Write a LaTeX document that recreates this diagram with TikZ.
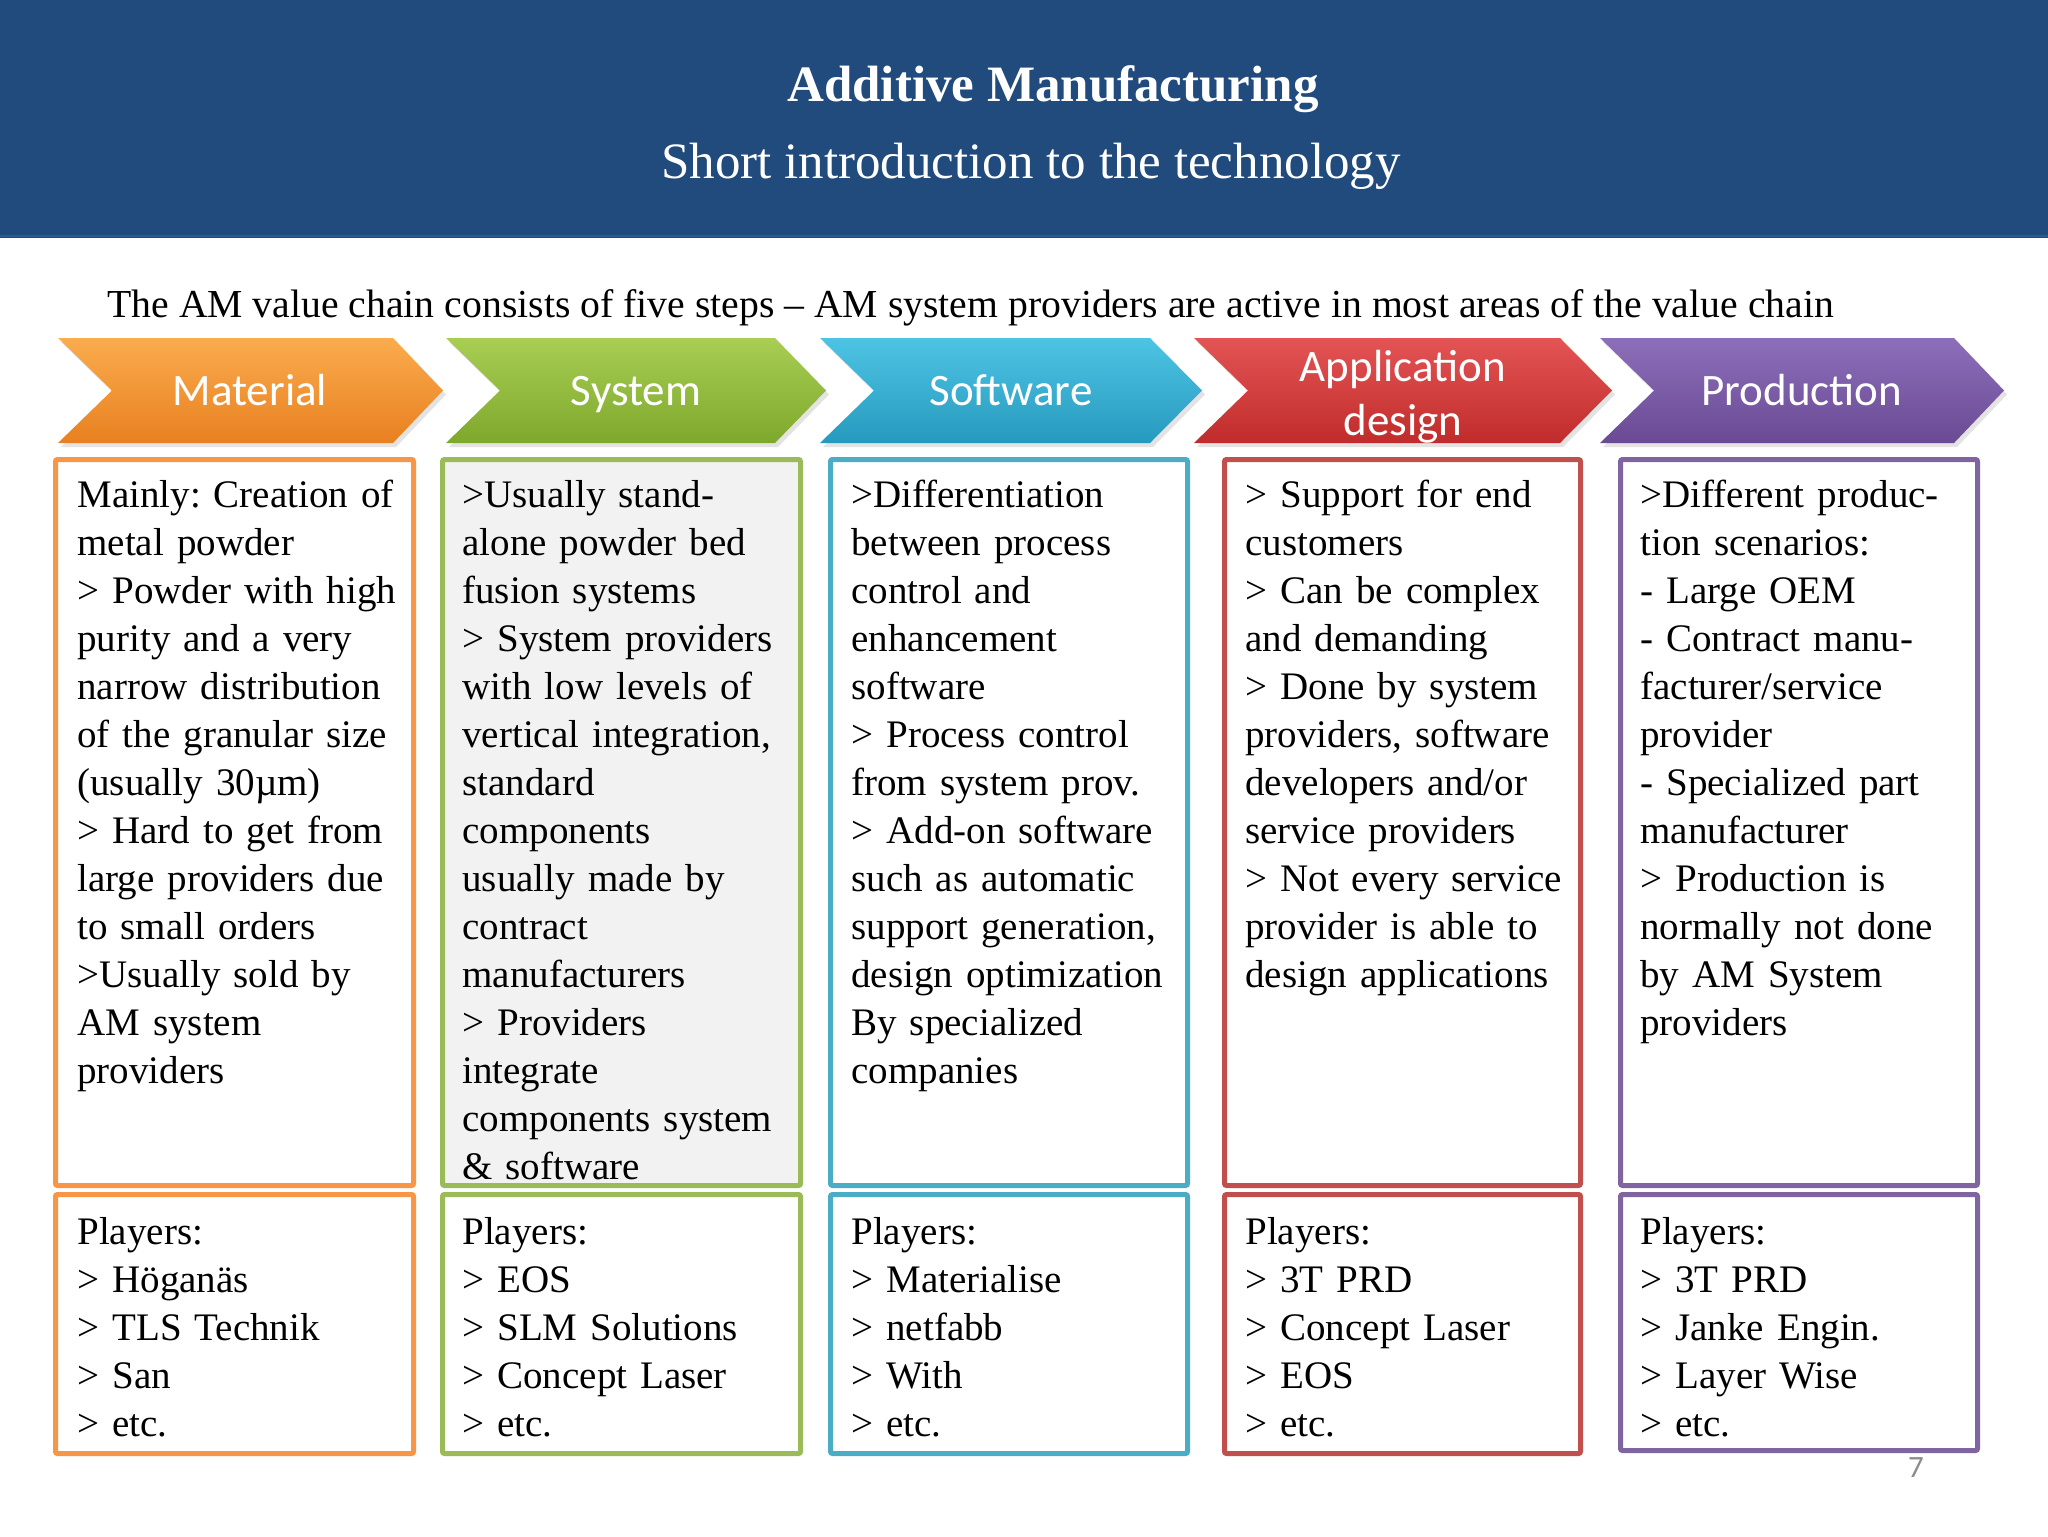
\documentclass[tikz,border=0pt]{standalone}
\usepackage{fontspec}
\setmainfont{Liberation Serif}
\newfontfamily\chevfont{Carlito}
\usetikzlibrary{shadows}
\frenchspacing
\definecolor{hdrblue}{HTML}{214A7D}
\definecolor{hdrline}{HTML}{2E5C92}
\definecolor{cOrange}{HTML}{F79646}
\definecolor{cGreen}{HTML}{9BBB59}
\definecolor{cCyan}{HTML}{4BACC6}
\definecolor{cRed}{HTML}{C0504D}
\definecolor{cPurple}{HTML}{8064A2}
\definecolor{boxgray}{HTML}{F2F2F2}
\definecolor{pagegray}{HTML}{8C8C8C}
\begin{document}
\begin{tikzpicture}[x=0.5pt,y=-0.5pt,
  titletext/.style={anchor=base, inner sep=0, text=white, font=\fontsize{25.5pt}{30pt}\selectfont\bfseries},
  subtext/.style={anchor=base, inner sep=0, text=white, font=\fontsize{25.5pt}{30pt}\selectfont},
  introtext/.style={anchor=base west, inner sep=0, font=\fontsize{19.85pt}{24pt}\selectfont},
  chev/.style={drop shadow={opacity=0.22, shadow xshift=1.5pt, shadow yshift=-2pt}},
  chevlabel/.style={anchor=base, inner sep=0, text=white, font=\chevfont\fontsize{22.5pt}{26pt}\selectfont},
  boxline/.style={line width=2.5pt, rounded corners=1pt},
  btext/.style={anchor=base west, inner sep=0, text width=175pt, align=left, font=\fontsize{19.5pt}{24pt}\selectfont},
  pagenum/.style={anchor=base, inner sep=0, text=pagegray, font=\chevfont\fontsize{15.5pt}{18pt}\selectfont}
]
\useasboundingbox (0,0) rectangle (2048,1536);
\fill[white] (0,0) rectangle (2048,1536);
% header
\fill[hdrblue] (0,0) rectangle (2048,238);
\draw[hdrline, line width=1pt] (0,236) -- (2048,236);
\node[titletext] (title) at (1053,102) {Additive Manufacturing};
\node[subtext] (subtitle) at (1031,178) {Short introduction to the technology};
\node[introtext] (intro) at (107,317) {The AM value chain consists of five steps – AM system providers are active in most areas of the value chain};
% chevrons
\path[chev, top color={rgb,255:red,250;green,172;blue,78}, middle color={rgb,255:red,247;green,146;blue,46}, bottom color={rgb,255:red,232;green,128;blue,32}]
  (58,338) -- (393,338) -- (443,390.5) -- (393,443) -- (58,443) -- (112,390.5) -- cycle;
\path[chev, top color={rgb,255:red,168;green,206;blue,84}, middle color={rgb,255:red,144;green,190;blue,58}, bottom color={rgb,255:red,126;green,168;blue,44}]
  (446,338) -- (775,338) -- (826,390.5) -- (775,443) -- (446,443) -- (500,390.5) -- cycle;
\path[chev, top color={rgb,255:red,78;green,196;blue,228}, middle color={rgb,255:red,50;green,178;blue,214}, bottom color={rgb,255:red,38;green,154;blue,190}]
  (820,338) -- (1150,338) -- (1202,390.5) -- (1150,443) -- (820,443) -- (874,390.5) -- cycle;
\path[chev, top color={rgb,255:red,228;green,84;blue,84}, middle color={rgb,255:red,218;green,61;blue,61}, bottom color={rgb,255:red,192;green,44;blue,44}]
  (1194,338) -- (1560,338) -- (1612,390.5) -- (1560,443) -- (1194,443) -- (1248,390.5) -- cycle;
\path[chev, top color={rgb,255:red,140;green,110;blue,186}, middle color={rgb,255:red,123;green,91;blue,165}, bottom color={rgb,255:red,106;green,74;blue,148}]
  (1600,338) -- (1954,338) -- (2004,390.5) -- (1954,443) -- (1600,443) -- (1654,390.5) -- cycle;
\node[chevlabel] (lab1) at (250,405) {Material};
\node[chevlabel] (lab2) at (636,405) {System};
\node[chevlabel] (lab3) at (1011,405) {Software};
\node[chevlabel] (lab4) at (1403,381) {Application};
\node[chevlabel] (lab4b) at (1403,435) {design};
\node[chevlabel] (lab5) at (1802,405) {Production};
% top boxes
\draw[boxline, draw=cOrange] (55.5,459.5) rectangle (413.5,1185.5);
\draw[boxline, draw=cGreen, fill=boxgray] (442.5,459.5) rectangle (800.5,1185.5);
\draw[boxline, draw=cCyan] (830.5,459.5) rectangle (1187.5,1185.5);
\draw[boxline, draw=cRed] (1224.5,459.5) rectangle (1580.5,1185.5);
\draw[boxline, draw=cPurple] (1620.5,459.5) rectangle (1977.5,1185.5);
% bottom boxes
\draw[boxline, draw=cOrange] (55.5,1194.5) rectangle (413.5,1453.5);
\draw[boxline, draw=cGreen] (442.5,1194.5) rectangle (800.5,1453.5);
\draw[boxline, draw=cCyan] (830.5,1194.5) rectangle (1187.5,1453.5);
\draw[boxline, draw=cRed] (1224.5,1194.5) rectangle (1580.5,1453.5);
\draw[boxline, draw=cPurple] (1620.5,1194.5) rectangle (1977.5,1450.5);
% top texts
\node[btext] (t1) at (77,507) {Mainly: Creation of\\metal powder\\> Powder with high\\purity and a very\\narrow distribution\\of the granular size\\(usually 30µm)\\> Hard to get from\\large providers due\\to small orders\\>Usually sold by\\AM system\\providers};
\node[btext] (t2) at (462,507) {>Usually stand-\\alone powder bed\\fusion systems\\> System providers\\with low levels of\\vertical integration,\\standard\\components\\usually made by\\contract\\manufacturers\\> Providers\\integrate\\components system\\\& software};
\node[btext] (t3) at (851,507) {>Differentiation\\between process\\control and\\enhancement\\software\\> Process control\\from system prov.\\> Add-on software\\such as automatic\\support generation,\\design optimization\\By specialized\\companies};
\node[btext] (t4) at (1245,507) {> Support for end\\customers\\> Can be complex\\and demanding\\> Done by system\\providers, software\\developers and/or\\service providers\\> Not every service\\provider is able to\\design applications};
\node[btext] (t5) at (1640,507) {>Different produc-\\tion scenarios:\\- Large OEM\\- Contract manu-\\facturer/service\\provider\\- Specialized part\\manufacturer\\> Production is\\normally not done\\by AM System\\providers};
% bottom texts
\node[btext] (p1) at (77,1244) {Players:\\> Höganäs\\> TLS Technik\\> San\\> etc.};
\node[btext] (p2) at (462,1244) {Players:\\> EOS\\> SLM Solutions\\> Concept Laser\\> etc.};
\node[btext] (p3) at (851,1244) {Players:\\> Materialise\\> netfabb\\> With\\> etc.};
\node[btext] (p4) at (1245,1244) {Players:\\> 3T PRD\\> Concept Laser\\> EOS\\> etc.};
\node[btext] (p5) at (1640,1244) {Players:\\> 3T PRD\\> Janke Engin.\\> Layer Wise\\> etc.};
\node[pagenum] (pnum) at (1916,1477) {7};
\end{tikzpicture}
\end{document}
